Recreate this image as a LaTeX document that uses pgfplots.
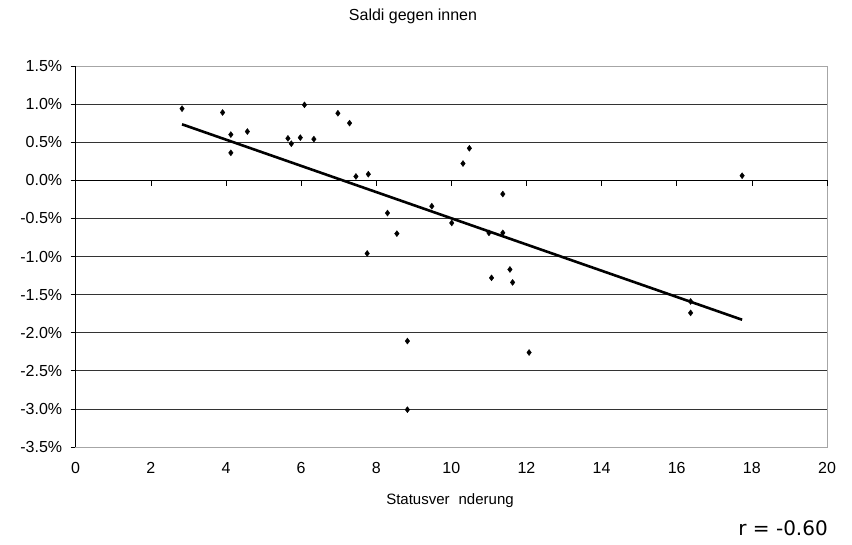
\documentclass[border=0pt]{standalone}
\usepackage{pgfplots}
\pgfplotsset{compat=1.18}
\usepackage{fontspec}
\setmainfont{Liberation Sans}
\newfontfamily\rfont{DejaVu Sans}
\begin{document}
\begin{tikzpicture}[x=1pt,y=1pt]
\path[use as bounding box] (0,0) rectangle (852,544);
\node[font=\fontsize{16}{19}\selectfont] at (413,528) {Saldi gegen innen};
\node[font=\fontsize{15}{18}\selectfont] at (450,43) {Statusver\hspace{0.6em}nderung};
\node[font=\rfont\fontsize{20}{24}\selectfont, anchor=base east, inner sep=0pt] at (828,9) {r = -0.60};
\begin{axis}[
  at={(75.7pt,97pt)}, anchor=south west,
  scale only axis, width=751.3pt, height=381pt,
  xmin=0, xmax=20, ymin=-3.5, ymax=1.5,
  xtick={0,2,...,20}, ytick={-3.5,-3,...,1.5},
  ymajorgrids,
  grid style={black!80, line width=0.7pt},
  axis line style={gray!70, line width=0.9pt},
  xtick style={draw=none},
  ytick pos=left, tick align=outside,
  ytick style={black, line width=0.6pt},
  major tick length=5pt,
  /pgf/number format/assume math mode=true,
  tick label style={font=\fontsize{16}{19}\selectfont},
  yticklabel={\pgfmathprintnumber[fixed,fixed zerofill,precision=1]{\tick}\%},
  xticklabel style={yshift=-7pt},
  yticklabel style={xshift=-5pt},
  clip=false,
]
\draw[black, line width=0.7pt] (axis cs:0,0) -- (axis cs:20,0);
\draw[black, line width=0.8pt] (axis cs:0,-3.5) -- (axis cs:0,1.5);
\pgfplotsinvokeforeach{2,4,...,20}{\draw[black, line width=0.6pt] (axis cs:#1,0) -- ++(0pt,-6pt);}
\addplot[only marks, mark=diamond*, mark size=3pt, black] table {
x y
2.83 0.94
3.91 0.89
4.13 0.60
4.13 0.36
4.57 0.64
5.65 0.55
5.74 0.48
5.98 0.56
6.09 0.99
6.34 0.54
6.98 0.88
7.29 0.75
7.46 0.05
7.79 0.08
10.31 0.22
10.48 0.42
11.37 -0.18
8.30 -0.43
8.55 -0.70
7.76 -0.96
9.48 -0.34
10.01 -0.56
11.00 -0.69
11.37 -0.69
11.07 -1.28
11.56 -1.17
11.63 -1.34
8.83 -2.11
12.07 -2.26
8.83 -3.01
17.74 0.06
16.37 -1.59
16.37 -1.74
};
\addplot[black, line width=2.6pt] coordinates {(2.83,0.735) (17.74,-1.83)};
\end{axis}
\end{tikzpicture}
\end{document}
